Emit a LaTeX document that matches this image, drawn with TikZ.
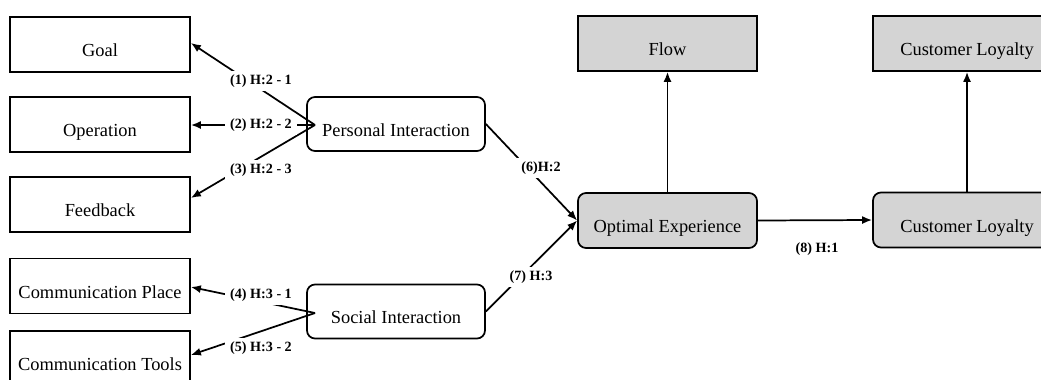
\documentclass[tikz,border=0pt]{standalone}
\usepackage{fontspec}
\setmainfont{Liberation Serif}
\usetikzlibrary{arrows.meta}
\begin{document}
\begin{tikzpicture}[x=0.75pt,y=-0.75pt,
  base/.style={draw, line width=1.3pt, font=\fontsize{13.8}{16}\selectfont,
    text height=20pt, text depth=2pt, inner sep=0pt},
  plainbox/.style={base, minimum width=135pt, minimum height=41.25pt},
  roundbox/.style={base, rounded corners=6pt, minimum width=133.5pt, minimum height=40.5pt},
  shadedbox/.style={base, fill=black!17, minimum width=134.25pt, minimum height=41.25pt},
  lbl/.style={font=\fontsize{10.6}{12}\selectfont\bfseries, fill=white, inner xsep=4pt, inner ysep=2.5pt},
  link/.style={line width=1.3pt, -{Latex[length=7.5pt,width=6pt]}}]
\useasboundingbox (0,0) rectangle (1041,379);

% outcome dimensions
\node[plainbox] (goal) at (100,44.5) {Goal};
\node[plainbox] (oper) at (100,124.5) {Operation};
\node[plainbox] (feed) at (100,204.5) {Feedback};
\node[plainbox] (place) at (100,286) {Communication Place};
\node[plainbox] (tools) at (100,358.5) {Communication Tools};

% interaction constructs
\node[roundbox] (pi) at (396,124) {Personal Interaction};
\node[roundbox] (si) at (396,311.5) {Social Interaction};

% experience and loyalty
\node[shadedbox, rounded corners=6pt] (oe) at (667.5,220.5) {Optimal Experience};
\node[shadedbox] (flow) at (667.5,43.5) {Flow};
\node[shadedbox, rounded corners=6pt, minimum width=141pt] (cl) at (967,220) {Customer Loyalty};
\node[shadedbox, minimum width=141pt] (clt) at (967,43.5) {Customer Loyalty};

% fork points on the left edges
\coordinate (pf) at (315,125);
\coordinate (sf) at (315,313);

\draw[link] (pf) -- (goal.east |- 0,43);
\draw[link] (pf) -- (oper.east |- 0,125);
\draw[link] (pf) -- (feed.east |- 0,198);
\draw[link] (sf) -- (place.east |- 0,287);
\draw[link] (sf) -- (tools.east |- 0,355);

\draw[link] (pi.east) -- (oe.west);
\draw[link] (si.east) -- (oe.west);
\draw[link] (oe.east) -- (cl.west);
\draw[link] (oe.north) -- (flow.south);
\draw[link] (cl.north) -- (clt.south);

% path labels
\node[lbl] (l1) at (261,81) {(1) H:2 - 1};
\node[lbl] (l2) at (261,125) {(2) H:2 - 2};
\node[lbl] (l3) at (261,170) {(3) H:2 - 3};
\node[lbl] (l4) at (261,295) {(4) H:3 - 1};
\node[lbl] (l5) at (261,348) {(5) H:3 - 2};
\node[lbl] (l6) at (541,168) {(6)H:2};
\node[lbl] (l7) at (531,277) {(7) H:3};
\node[lbl] (l8) at (817,249) {(8) H:1};
\end{tikzpicture}
\end{document}
